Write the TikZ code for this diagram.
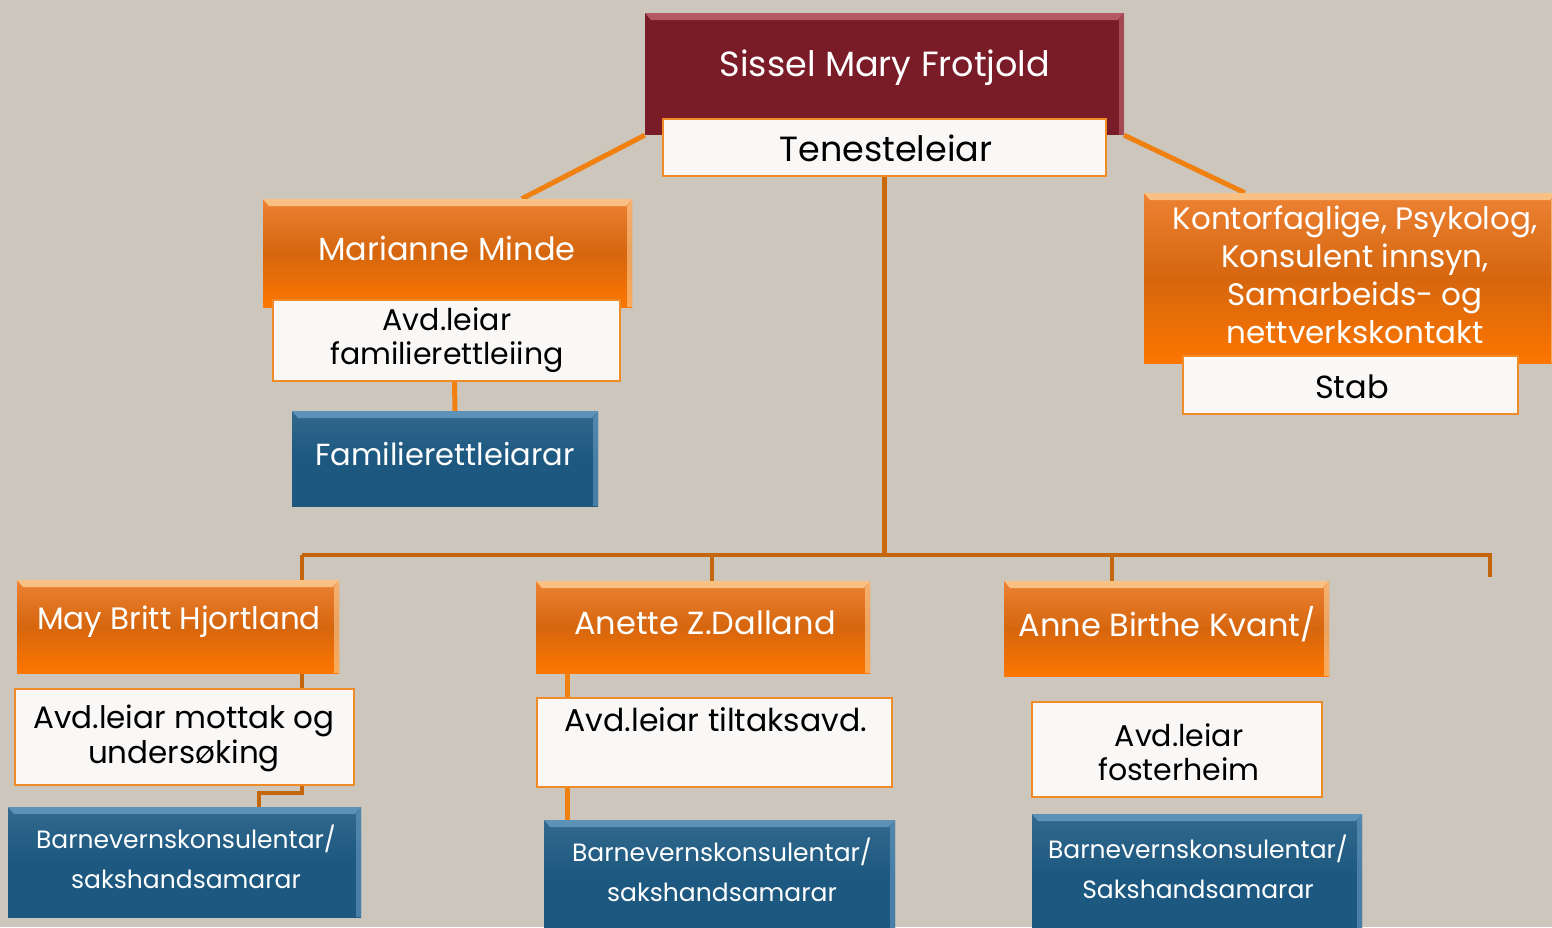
\documentclass[tikz,border=0pt]{standalone}
\usepackage{fontspec}
\setmainfont{Poppins}
\usetikzlibrary{calc}
\definecolor{bgc}{RGB}{204,198,188}
\definecolor{maroonc}{RGB}{122,28,40}
\definecolor{maroonhi}{RGB}{200,110,120}
\definecolor{orgTop}{RGB}{236,130,52}
\definecolor{orgMid}{RGB}{214,102,14}
\definecolor{orgBot}{RGB}{252,118,0}
\definecolor{orghi}{RGB}{255,214,160}
\definecolor{bluc}{RGB}{28,88,128}
\definecolor{bluhi}{RGB}{110,160,200}
\definecolor{lineorg}{RGB}{240,128,16}
\definecolor{busorg}{RGB}{196,102,12}
\definecolor{wborder}{RGB}{240,140,40}
\definecolor{wfill}{RGB}{250,248,246}
\pgfdeclarelayer{back}
\pgfdeclarelayer{lines}
\pgfsetlayers{back,lines,main}
\tikzset{
  bevel/.style={path picture={
    \fill[#1,opacity=0.75] (path picture bounding box.north west) -- (path picture bounding box.north east)
      -- ([xshift=-6pt,yshift=-7pt]path picture bounding box.north east) -- ([xshift=6pt,yshift=-7pt]path picture bounding box.north west) -- cycle;
    \fill[#1,opacity=0.55] (path picture bounding box.north east) -- (path picture bounding box.south east)
      -- ([xshift=-5pt]path picture bounding box.south east) -- ([xshift=-5pt,yshift=-7pt]path picture bounding box.north east) -- cycle;
  }},
  box/.style={rectangle, draw=none, inner sep=0pt, minimum width=#1},
  orangebox/.style={box=#1, top color=orgTop, bottom color=orgBot, middle color=orgMid, bevel=orghi},
  bluebox/.style={box=#1, top color=bluc!90!white, bottom color=bluc, middle color=bluc, bevel=bluhi},
  maroonbox/.style={box=#1, fill=maroonc, bevel=maroonhi},
  whitebox/.style={box=#1, fill=wfill, draw=wborder, line width=2pt},
  wtext/.style={text=white, align=center, inner sep=0pt},
  btext/.style={text=black, align=center, inner sep=0pt},
  diag/.style={draw=lineorg, line width=5pt},
  busline/.style={draw=busorg, line width=4pt},
  trunk/.style={draw=busorg!85!lineorg, line width=5pt},
  conn/.style={draw=lineorg, line width=5pt},
}
\begin{document}
\begin{tikzpicture}[x=1pt,y=-1pt]
\begin{pgfonlayer}{back}
\fill[bgc] (0,0) rectangle (1552,927);
\end{pgfonlayer}
\useasboundingbox (0,0) rectangle (1552,927);

% boxes
\node[maroonbox=479pt, minimum height=122pt] (top) at (884.5,74) {};
\node[whitebox=443pt, minimum height=57pt] (tene) at (884.5,147.5) {};
\node[orangebox=369pt, minimum height=108pt] (mm) at (447.5,253) {};
\node[whitebox=347pt, minimum height=81pt] (mmw) at (446.5,340.5) {};
\node[bluebox=306pt, minimum height=95pt] (fam) at (445,458.5) {};
\node[orangebox=412pt, minimum height=170pt] (stab) at (1350,278) {};
\node[whitebox=335pt, minimum height=58pt] (stabw) at (1350.5,385) {};
\node[orangebox=322pt, minimum height=93pt] (mb) at (178,626.5) {};
\node[whitebox=339pt, minimum height=96pt] (mbw) at (184.5,737) {};
\node[bluebox=353pt, minimum height=110pt] (mbb) at (184.5,862) {};
\node[orangebox=334pt, minimum height=92pt] (az) at (703,627) {};
\node[whitebox=355pt, minimum height=89pt] (azw) at (714.5,742.5) {};
\node[bluebox=351pt, minimum height=114pt] (azb) at (719.5,877) {};
\node[orangebox=325pt, minimum height=95pt] (ab) at (1166.5,628.5) {};
\node[whitebox=290pt, minimum height=95pt] (abw) at (1177,749.5) {};
\node[bluebox=330pt, minimum height=121pt] (abb) at (1197,874.5) {};

% texts
\node[wtext, font=\fontsize{35}{40}\selectfont] (top-t) at (885,68) {Sissel Mary Frotjold};
\node[btext, font=\fontsize{35}{40}\selectfont] (tene-t) at (886,148) {Tenesteleiar};
\node[wtext, font=\fontsize{32}{36}\selectfont] (mm-t) at (447,248) {Marianne Minde};
\node[btext, font=\fontsize{30}{34}\selectfont] (mmw-t) at (447,340) {Avd.leiar\\familierettleiing};
\node[wtext, font=\fontsize{30.5}{36}\selectfont] (fam-t) at (445,454) {Familierettleiarar};
\node[wtext, font=\fontsize{31}{38}\selectfont] (stab-t) at (1355,275) {Kontorfaglige, Psykolog,\\Konsulent innsyn,\\Samarbeids- og\\nettverkskontakt};
\node[btext, font=\fontsize{32}{36}\selectfont] (stabw-t) at (1352,387) {Stab};
\node[wtext, font=\fontsize{31}{36}\selectfont] (mb-t) at (179,622) {May Britt Hjortland};
\node[btext, font=\fontsize{31}{35}\selectfont] (mbw-t) at (184,738) {Avd.leiar mottak og\\undersøking};
\node[wtext, font=\fontsize{25}{40}\selectfont] (mbb-t) at (186,857) {Barnevernskonsulentar/\\sakshandsamarar};
\node[wtext, font=\fontsize{32}{36}\selectfont] (az-t) at (705,623) {Anette Z.Dalland};
\node[btext, font=\fontsize{31.5}{36}\selectfont] (azw-t) at (716,720) {Avd.leiar tiltaksavd.};
\node[wtext, font=\fontsize{25}{40}\selectfont] (azb-t) at (722,870) {Barnevernskonsulentar/\\sakshandsamarar};
\node[wtext, font=\fontsize{32}{36}\selectfont] (ab-t) at (1167,624) {Anne Birthe Kvant/};
\node[btext, font=\fontsize{30}{34}\selectfont] (abw-t) at (1179,752) {Avd.leiar\\fosterheim};
\node[wtext, font=\fontsize{25}{40}\selectfont] (abb-t) at (1198,867) {Barnevernskonsulentar/\\Sakshandsamarar};

% bus coordinates
\coordinate (b1) at (302,555);
\coordinate (b2) at (712,555);
\coordinate (b3) at (1112,555);
\coordinate (b4) at (1490,555);

\begin{pgfonlayer}{lines}
\draw[diag] (top.south west) -- ($(mm.north west)+(259,0)$);
\draw[diag] (top.south east) -- ($(stab.north west)+(101,0)$);
\draw[trunk] (tene.south) -- (tene.south |- b1);
\draw[busline] (b1) -- (b4) -- ++(0,22);
\draw[busline] (b2) -- (b2 |- az.north);
\draw[busline] (b3) -- (b3 |- ab.north);
\draw[busline] (b1) -- ($(b1 |- mbw.south)+(0,7)$) -| ($(mbb.north west)+(251,0)$);
\draw[conn] ($(mmw.south)+(8,0)$) -- ($(fam.north)+(10,0)$);
\draw[conn] ($(az.south west)+(32,0)$) -- ($(azb.north west)+(24,0)$);
\end{pgfonlayer}
\end{tikzpicture}
\end{document}
